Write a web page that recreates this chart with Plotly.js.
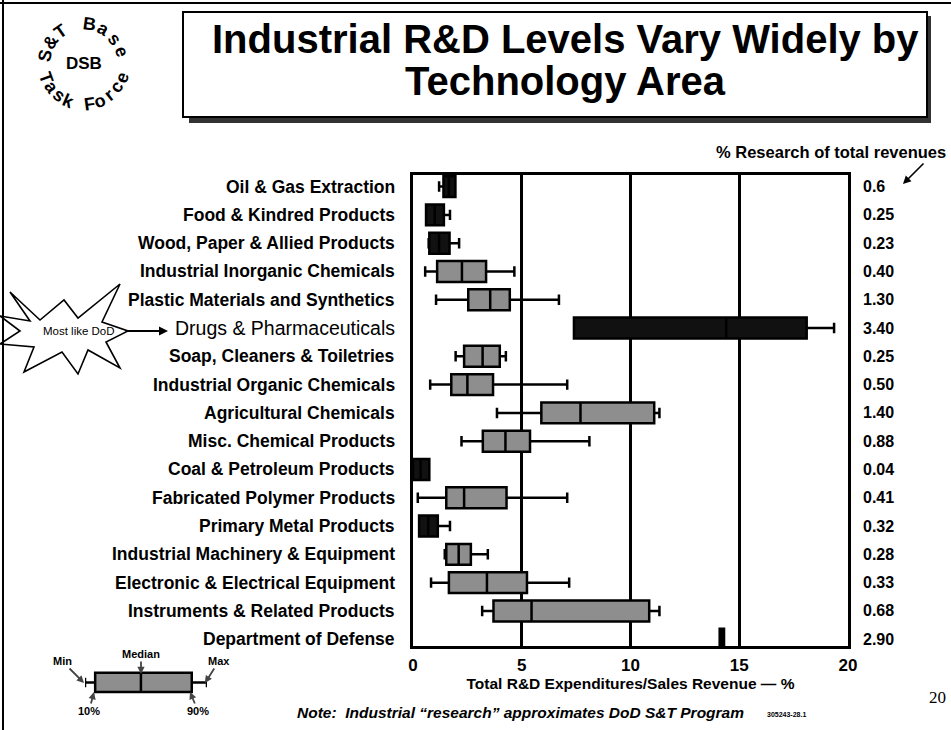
<!DOCTYPE html>
<html><head><meta charset="utf-8">
<script src="https://cdn.plot.ly/plotly-3.0.1.min.js"></script>
<style>html,body{margin:0;padding:0;background:#fff}#chart{width:951px;height:730px}</style>
</head><body><div id="chart"></div>
<script>
// ---------------- DATA ----------------
const categories = [
  "Oil & Gas Extraction",
  "Food & Kindred Products",
  "Wood, Paper & Allied Products",
  "Industrial Inorganic Chemicals",
  "Plastic Materials and Synthetics",
  "Drugs & Pharmaceuticals",
  "Soap, Cleaners & Toiletries",
  "Industrial Organic Chemicals",
  "Agricultural Chemicals",
  "Misc. Chemical Products",
  "Coal & Petroleum Products",
  "Fabricated Polymer Products",
  "Primary Metal Products",
  "Industrial Machinery & Equipment",
  "Electronic & Electrical Equipment",
  "Instruments & Related Products",
  "Department of Defense"
];
const minVals    = [1.20, 0.60, 0.72, 0.56, 1.06,  7.40, 1.96, 0.79, 3.86, 2.23, 0.00, 0.22, 0.28, 1.46, 0.83, 3.18, 14.10];
const p10Vals    = [1.40, 0.60, 0.75, 1.11, 2.54,  7.40, 2.35, 1.76, 5.90, 3.21, 0.00, 1.53, 0.28, 1.53, 1.65, 3.70, 14.10];
const medianVals = [1.65, 1.00, 1.20, 2.25, 3.55, 14.40, 3.20, 2.50, 7.70, 4.25, 0.35, 2.35, 0.70, 2.10, 3.40, 5.45, 14.20];
const p90Vals    = [1.95, 1.42, 1.68, 3.36, 4.45, 18.10, 3.99, 3.68, 11.09, 5.38, 0.75, 4.30, 1.14, 2.66, 5.24, 10.86, 14.30];
const maxVals    = [1.95, 1.70, 2.12, 4.66, 6.71, 19.36, 4.27, 7.09, 11.33, 8.11, 0.75, 7.09, 1.70, 3.44, 7.18, 11.33, 14.30];
const researchPct = ["0.6","0.25","0.23","0.40","1.30","3.40","0.25","0.50","1.40","0.88","0.04","0.41","0.32","0.28","0.33","0.68","2.90"];
const xTicks = [0, 5, 10, 15, 20];
// key (explanatory mini box)
const keyCategory = ["key"];
const keyMin = [0], keyP10 = [1], keyMedian = [5.5], keyP90 = [10.5], keyMax = [12];

// ---------------- STYLE ----------------
const FONT = "Liberation Sans, Arial, sans-serif";
const W = 951, H = 730;
const px = x => x / W;
const py = y => 1 - y / H;
const darkRows = new Set([0, 1, 2, 5, 10, 12, 16]);
const boxFill = categories.map((c, i) => darkRows.has(i) ? "#111111" : "#8e8e8e");
const plainLabel = new Set([5]);

const traces = categories.map((c, i) => ({
  type: "box", orientation: "h",
  y: [c], q1: [p10Vals[i]], median: [medianVals[i]], q3: [p90Vals[i]],
  lowerfence: [minVals[i]], upperfence: [maxVals[i]],
  fillcolor: boxFill[i], line: {color: "#000", width: 2.5},
  whiskerwidth: 0.5, width: 0.74, boxpoints: false,
  hoverinfo: "skip", showlegend: false, xaxis: "x", yaxis: "y"
}));
traces.push({
  type: "box", orientation: "h",
  y: keyCategory, q1: keyP10, median: keyMedian, q3: keyP90,
  lowerfence: keyMin, upperfence: keyMax,
  fillcolor: "#8e8e8e", line: {color: "#000", width: 2.5},
  whiskerwidth: 0.5, width: 0.55, boxpoints: false,
  hoverinfo: "skip", showlegend: false, xaxis: "x2", yaxis: "y2"
});

const annotations = [];
// row labels
categories.forEach((c, i) => {
  const plain = plainLabel.has(i);
  annotations.push({
    xref: "paper", yref: "y", x: px(397), y: c, xanchor: "right", yanchor: "middle",
    text: c, showarrow: false,
    font: {family: FONT, size: plain ? 19.5 : 17.5, weight: plain ? 400 : 700, color: "#000"}
  });
  annotations.push({
    xref: "paper", yref: "y", x: px(861), y: c, xanchor: "left", yanchor: "middle",
    text: researchPct[i], showarrow: false,
    font: {family: FONT, size: 16, weight: 700, color: "#000"}
  });
});
const A = (o) => annotations.push(Object.assign({xref: "paper", yref: "paper", showarrow: false}, o));
// header right
A({x: px(948), y: py(152), xanchor: "right", yanchor: "middle", text: "% Research of total revenues",
   font: {family: FONT, size: 16.5, weight: 700, color: "#000"}});
A({x: px(903), y: py(184), ax: 22, ay: -22, text: "", showarrow: true, arrowhead: 2, arrowsize: 1, arrowwidth: 1.6, arrowcolor: "#000"});
// title
A({x: px(565), y: py(39), xanchor: "center", yanchor: "middle", text: "Industrial R&D Levels Vary Widely by",
   font: {family: FONT, size: 40, weight: 700, color: "#000"}});
A({x: px(565), y: py(81), xanchor: "center", yanchor: "middle", text: "Technology Area",
   font: {family: FONT, size: 40, weight: 700, color: "#000"}});
// starburst text + arrow
A({x: px(79), y: py(331), xanchor: "center", yanchor: "middle", text: "Most like DoD",
   font: {family: FONT, size: 11.5, color: "#000"}});
A({x: px(168), y: py(331), ax: -44, ay: 0, text: "", showarrow: true, arrowhead: 2, arrowsize: 1, arrowwidth: 1.8, arrowcolor: "#000"});
// key labels
const keyFont = {family: FONT, size: 11, weight: 700, color: "#000"};
A({x: px(84), y: py(683), ax: -22, ay: -22, text: "Min", showarrow: true, arrowhead: 2, arrowwidth: 1.8, arrowsize: 0.8, font: keyFont});
A({x: px(141), y: py(674), ax: 0, ay: -20, text: "Median", showarrow: true, arrowhead: 2, arrowwidth: 1.8, arrowsize: 0.8, font: keyFont});
A({x: px(205), y: py(683), ax: 14, ay: -22, text: "Max", showarrow: true, arrowhead: 2, arrowwidth: 1.8, arrowsize: 0.8, font: keyFont});
A({x: px(94), y: py(692), ax: -5, ay: 19, text: "10%", showarrow: true, arrowhead: 2, arrowwidth: 1.8, arrowsize: 0.8, font: keyFont});
A({x: px(190), y: py(692), ax: 8, ay: 19, text: "90%", showarrow: true, arrowhead: 2, arrowwidth: 1.8, arrowsize: 0.8, font: keyFont});
// note & misc
A({x: px(520), y: py(712), xanchor: "center", yanchor: "middle",
   text: "Note:  Industrial \u201cresearch\u201d approximates DoD S&T Program",
   font: {family: FONT, size: 15.5, weight: 700, style: "italic", color: "#000"}});
A({x: px(786), y: py(714), xanchor: "center", yanchor: "middle", text: "305243-28.1",
   font: {family: FONT, size: 7, weight: 700, color: "#000"}});
A({x: px(937), y: py(697), xanchor: "center", yanchor: "middle", text: "20",
   font: {family: "Liberation Serif, Times New Roman, serif", size: 17, color: "#000"}});
// logo: circular text
const logoCx = 84, logoCy = 64;
function arcText(str, r, a0, a1, bottom, size) {
  const n = str.length;
  for (let k = 0; k < n; k++) {
    const ch = str[k];
    const th = (a0 + (a1 - a0) * k / (n - 1)) * Math.PI / 180;
    const x = logoCx + r * Math.cos(th), y = logoCy - r * Math.sin(th);
    const deg = th * 180 / Math.PI;
    const rot = bottom ? (-90 - deg) : (90 - deg);
    if (ch === " ") continue;
    A({x: px(x), y: py(y), xanchor: "center", yanchor: "middle", text: ch, textangle: ((rot % 360) + 540) % 360 - 180,
       font: {family: FONT, size: size, weight: 700, color: "#000"}});
  }
}
arcText("S&T Base", 40, 168, 18, false, 18);
arcText("Task Force", 40, 200, 340, true, 18);
A({x: px(logoCx), y: py(logoCy), xanchor: "center", yanchor: "middle", text: "DSB",
   font: {family: FONT, size: 17, weight: 700, color: "#000"}});

// shapes
const star = [[10,292],[40,320],[64,300],[78,318],[120,284],[102,322],[128,331],[106,342],[120,368],[88,350],[78,374],[62,352],[24,372],[34,347],[0,344],[20,331],[0,316],[30,321]];
const starPath = "M " + star.map(p => px(p[0]) + "," + py(p[1])).join(" L ") + " Z";
const shapes = [
  {type: "rect", xref: "paper", yref: "paper", x0: px(189), y0: py(116), x1: px(931), y1: py(123), fillcolor: "#333", line: {width: 0}},
  {type: "rect", xref: "paper", yref: "paper", x0: px(926), y0: py(16), x1: px(931), y1: py(123), fillcolor: "#333", line: {width: 0}},
  {type: "rect", xref: "paper", yref: "paper", x0: px(183), y0: py(12), x1: px(927), y1: py(117), fillcolor: "#fff", line: {color: "#000", width: 2}},
  {type: "path", xref: "paper", yref: "paper", path: starPath, fillcolor: "#fff", line: {color: "#000", width: 1.6}},
  {type: "line", xref: "paper", yref: "paper", x0: px(3), y0: 0, x1: px(3), y1: 1, line: {color: "#000", width: 2}},
  {type: "line", xref: "paper", yref: "paper", x0: 0, y0: py(3), x1: 1, y1: py(3), line: {color: "#000", width: 2}}
];

const layout = {
  width: W, height: H,
  margin: {l: 0, r: 0, t: 0, b: 0},
  paper_bgcolor: "#fff", plot_bgcolor: "#fff",
  boxmode: "overlay",
  font: {family: FONT, color: "#000"},
  xaxis: {
    domain: [px(413), px(848)], range: [0, 20], tickvals: xTicks, ticktext: xTicks.map(String),
    showgrid: true, gridcolor: "#000", gridwidth: 3, zeroline: false,
    showline: true, mirror: true, linecolor: "#000", linewidth: 3,
    ticks: "", ticklabelstandoff: 2,
    tickfont: {family: FONT, size: 17, weight: 700, color: "#000"},
    title: {text: "Total R&D Expenditures/Sales Revenue \u2014 %", standoff: 0,
            font: {family: FONT, size: 15.5, weight: 700, color: "#000"}},
    anchor: "y", fixedrange: true
  },
  yaxis: {
    domain: [py(646), py(175)], type: "category", categoryorder: "array", categoryarray: categories,
    range: [16.24, -0.41], showticklabels: false, showgrid: false, zeroline: false,
    showline: true, mirror: true, linecolor: "#000", linewidth: 3, ticks: "",
    anchor: "x", fixedrange: true
  },
  xaxis2: {domain: [px(85), px(207)], range: [0, 12], visible: false, anchor: "y2", fixedrange: true},
  yaxis2: {domain: [py(700), py(665)], range: [-0.5, 0.5], type: "category", visible: false, anchor: "x2", fixedrange: true},
  annotations: annotations,
  shapes: shapes
};

Plotly.newPlot("chart", traces, layout, {displayModeBar: false, staticPlot: true});
</script>
</body></html>
